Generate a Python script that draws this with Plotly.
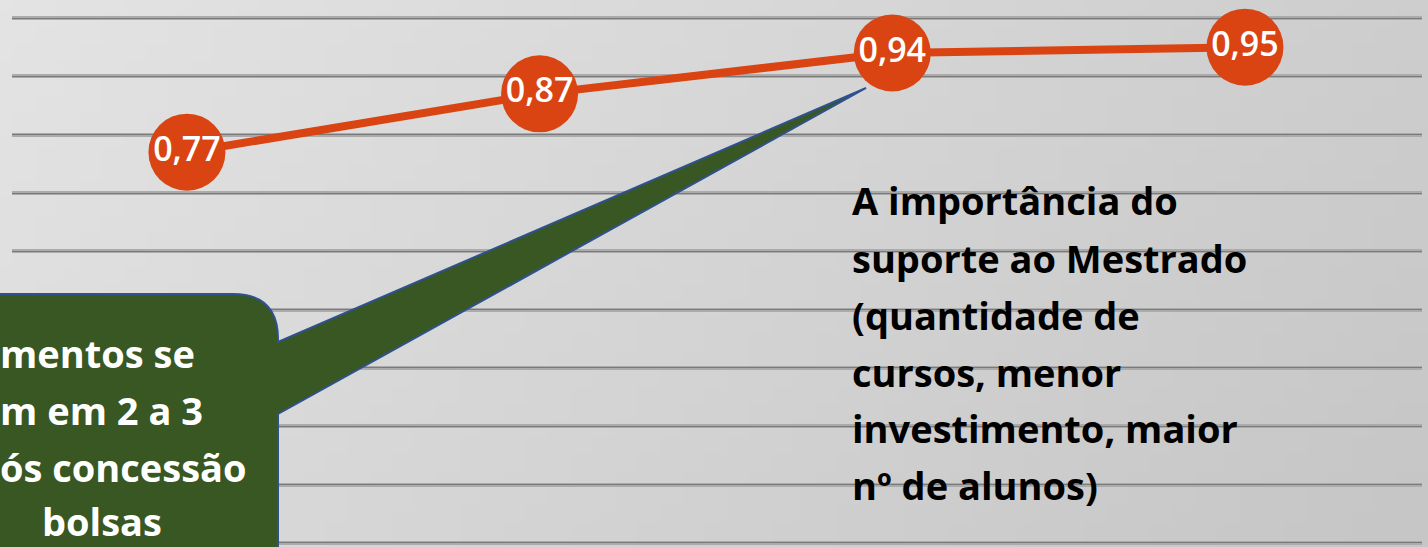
import base64
import struct
import zlib

import plotly.graph_objects as go

# ---------------- data ----------------
categories = ["Período 1", "Período 2", "Período 3", "Período 4"]
values = [0.77, 0.87, 0.94, 0.95]
value_labels = ["0,77", "0,87", "0,94", "0,95"]

note_lines = [
    "A importância do",
    "suporte ao Mestrado",
    "(quantidade de",
    "cursos, menor",
    "investimento, maior",
    "nº de alunos)",
]
callout_lines = ["mentos se", "m em 2 a 3", "ós concessão", "bolsas"]

# ---------------- layout constants ----------------
W, H = 1428, 547
ML, MR = 12, 6
PW = W - ML - MR

ORANGE = "#D94412"
GREEN = "#385723"
BLUE = "#2F528F"


def px(x):
    return (x - ML) / PW


def py(y):
    return 1 - y / H


# background gradient image
def gradient_png(w, h):
    rows = b""
    for j in range(h):
        row = b"\x00"
        for i in range(w):
            v = int(228 - 22 * i / (w - 1) - 8 * j / (h - 1))
            row += bytes([v, v, v])
        rows += row

    def chunk(t, d):
        c = struct.pack(">I", len(d)) + t + d
        return c + struct.pack(">I", zlib.crc32(t + d) & 0xFFFFFFFF)

    data = b"\x89PNG\r\n\x1a\n"
    data += chunk(b"IHDR", struct.pack(">IIBBBBB", w, h, 8, 2, 0, 0, 0))
    data += chunk(b"IDAT", zlib.compress(rows, 9))
    data += chunk(b"IEND", b"")
    return "data:image/png;base64," + base64.b64encode(data).decode()


fig = go.Figure()

fig.add_trace(
    go.Scatter(
        x=categories,
        y=values,
        mode="lines+markers+text",
        line=dict(color=ORANGE, width=8),
        marker=dict(size=77, color=ORANGE),
        text=value_labels,
        textposition="middle center",
        textfont=dict(family="Open Sans", size=34, color="white", weight=600),
        hoverinfo="skip",
        showlegend=False,
    )
)
# invisible helper trace so the second (overlay) grid axis is drawn
fig.add_trace(
    go.Scatter(
        x=categories,
        y=values,
        yaxis="y2",
        mode="lines",
        line=dict(width=0, color="rgba(0,0,0,0)"),
        hoverinfo="skip",
        showlegend=False,
    )
)

y_range = [0.0931, 1.0309]
x_range = [-0.496, 3.502]

shapes = []
# callout with pointer
path = (
    f"M {px(-30)},{py(294)} L {px(233)},{py(294)} "
    f"Q {px(278)},{py(294)} {px(278)},{py(339)} "
    f"L {px(278)},{py(342)} L {px(866)},{py(88)} L {px(278)},{py(414)} "
    f"L {px(278)},{py(570)} L {px(-30)},{py(570)} Z"
)
shapes.append(
    dict(
        type="path",
        xref="paper",
        yref="paper",
        path=path,
        fillcolor=GREEN,
        line=dict(color=BLUE, width=2),
        layer="above",
    )
)

annotations = []
note_baselines = [213, 271, 328, 385, 441, 498]
for txt, b in zip(note_lines, note_baselines):
    annotations.append(
        dict(
            text=txt,
            xref="paper",
            yref="paper",
            x=px(850),
            y=py(b - 13),
            xanchor="left",
            yanchor="middle",
            showarrow=False,
            font=dict(family="Open Sans", size=38, color="black", weight="bold"),
        )
    )

callout_x = [-2, -2, -2, 40]
callout_centers = [353, 410, 467, 521]
for i, (txt, cx, c) in enumerate(zip(callout_lines, callout_x, callout_centers)):
    annotations.append(
        dict(
            text=txt,
            xref="paper",
            yref="paper",
            x=px(cx),
            y=py(c),
            xanchor="left",
            yanchor="middle",
            showarrow=False,
            font=dict(family="Open Sans", size=38, color="white", weight="bold"),
        )
    )

fig.update_layout(
    width=W,
    height=H,
    margin=dict(l=ML, r=MR, t=0, b=0, pad=0),
    paper_bgcolor="#d6d6d6",
    plot_bgcolor="rgba(0,0,0,0)",
    showlegend=False,
    xaxis=dict(
        type="category",
        range=x_range,
        showgrid=False,
        showticklabels=False,
        showline=False,
        zeroline=False,
        ticks="",
        fixedrange=True,
    ),
    yaxis=dict(
        range=y_range,
        tick0=0,
        dtick=0.1,
        showgrid=True,
        gridcolor="#ababab",
        gridwidth=4,
        showticklabels=False,
        showline=False,
        zeroline=False,
        ticks="",
    ),
    yaxis2=dict(
        range=y_range,
        overlaying="y",
        tick0=0,
        dtick=0.1,
        showgrid=True,
        gridcolor="#7a7a7a",
        gridwidth=1.2,
        showticklabels=False,
        showline=False,
        zeroline=False,
        ticks="",
    ),
    images=[
        dict(
            source=gradient_png(64, 32),
            xref="paper",
            yref="paper",
            x=px(0),
            y=1,
            sizex=W / PW,
            sizey=1,
            sizing="stretch",
            xanchor="left",
            yanchor="top",
            layer="below",
        )
    ],
    shapes=shapes,
    annotations=annotations,
)

fig.write_html("out.html")
